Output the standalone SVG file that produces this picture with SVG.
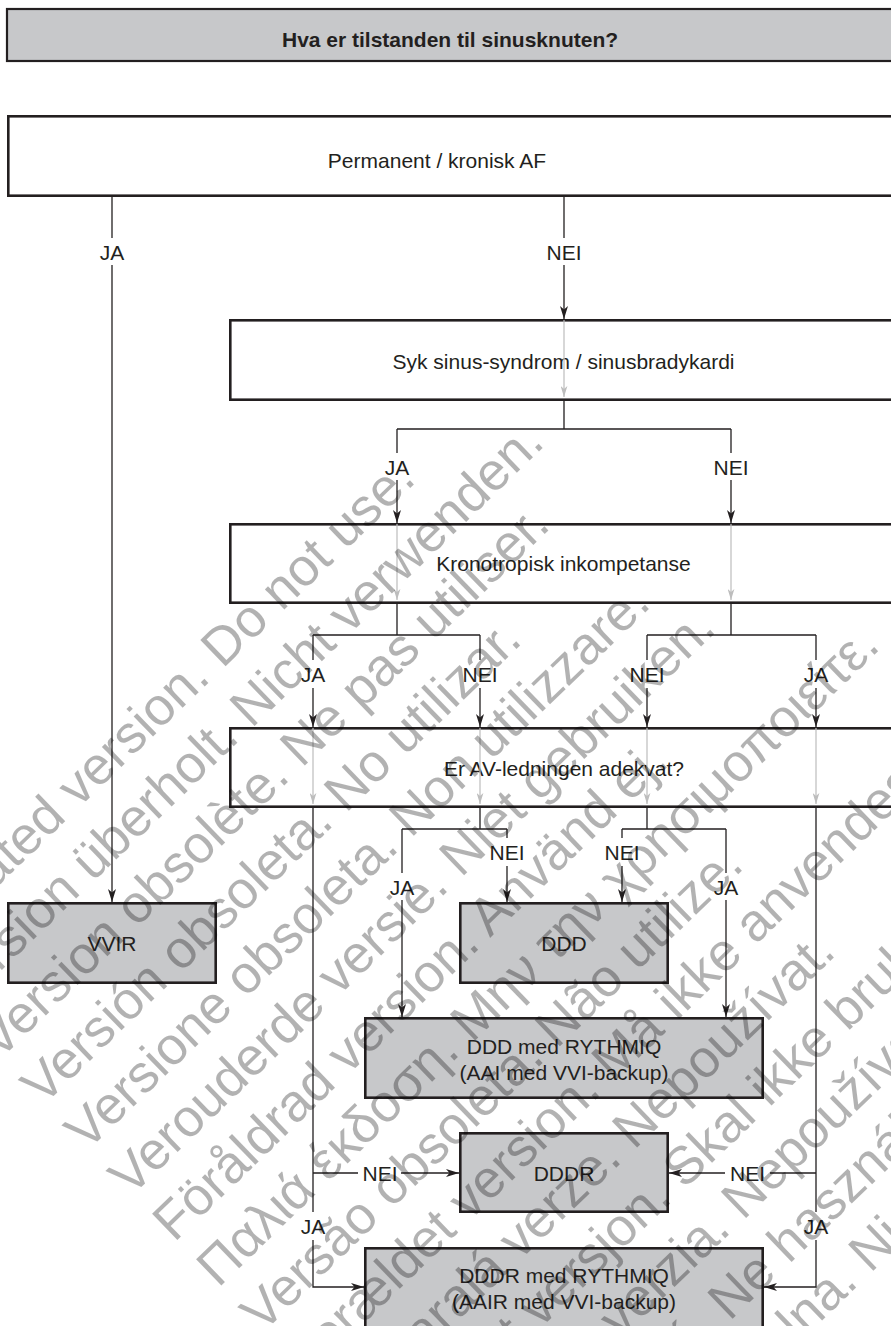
<svg xmlns="http://www.w3.org/2000/svg" width="891" height="1326" viewBox="0 0 891 1326">
<defs>
<style>
.box{fill:#ffffff;stroke:#231f20;stroke-width:2.6}
.gbox{fill:#c7c8ca;stroke:#231f20;stroke-width:2.6}
.t{font-family:"Liberation Sans",Arial,Helvetica,sans-serif;font-size:21px;fill:#231f20;text-anchor:middle}
.tb{font-weight:bold}
.c{stroke:#231f20;stroke-width:1.3;fill:none}
.a{marker-end:url(#ah)}
.g{stroke:#bdbdbd;stroke-width:1.2;fill:none;marker-end:url(#gh)}
.wm{font-family:"Liberation Sans",Arial,sans-serif;font-size:53px;fill:#000000;fill-opacity:0.3}
</style>
<marker id="ah" viewBox="0 0 13 8" refX="13" refY="4" markerWidth="13" markerHeight="8" markerUnits="userSpaceOnUse" orient="auto"><path d="M0,0 L13,4 L0,8 L3.5,4 Z" fill="#231f20"/></marker>
<marker id="gh" viewBox="0 0 13 8" refX="13" refY="4" markerWidth="11" markerHeight="7" markerUnits="userSpaceOnUse" orient="auto"><path d="M0,0 L13,4 L0,8 L3.5,4 Z" fill="#bdbdbd"/></marker>
</defs>
<rect x="0" y="0" width="891" height="1326" fill="#ffffff"/>

<g id="n-title"><rect x="7" y="9" width="900" height="52" fill="#c7c8ca" stroke="#231f20" stroke-width="2.2"/><text class="t tb" x="450" y="46.5">Hva er tilstanden til sinusknuten?</text></g>
<g id="n-af"><rect class="box" x="8.3" y="116.3" width="900" height="79.4"/><text class="t" x="437" y="168">Permanent / kronisk AF</text></g>
<g id="n-sss"><rect class="box" x="230.3" y="320.3" width="700" height="79.4"/><text class="t" x="563.5" y="368.5">Syk sinus-syndrom / sinusbradykardi</text></g>
<g id="n-kron"><rect class="box" x="230.3" y="524.3" width="700" height="78.4"/><text class="t" x="563.5" y="570.5">Kronotropisk inkompetanse</text></g>
<g id="n-av"><rect class="box" x="230.3" y="728.3" width="700" height="78.4"/><text class="t" x="564" y="775.5">Er AV-ledningen adekvat?</text></g>
<g id="n-vvir"><rect class="gbox" x="8.3" y="903.3" width="207.4" height="79.4"/><text class="t" x="112" y="950.5">VVIR</text></g>
<g id="n-ddd"><rect class="gbox" x="460.3" y="903.3" width="207.4" height="79.4"/><text class="t" x="564" y="950.5">DDD</text></g>
<g id="n-dddr-rq"><rect class="gbox" x="365.3" y="1018.3" width="397.4" height="79.4"/><text class="t" x="564" y="1053.5">DDD med RYTHMIQ</text><text class="t" x="564" y="1079.5">(AAI med VVI-backup)</text></g>
<g id="n-dddr"><rect class="gbox" x="460.3" y="1133.3" width="207.4" height="78.4"/><text class="t" x="564" y="1180.5">DDDR</text></g>
<g id="n-dddrr"><rect class="gbox" x="365.3" y="1248.3" width="397.4" height="100"/><text class="t" x="564" y="1283">DDDR med RYTHMIQ</text><text class="t" x="564" y="1309">(AAIR med VVI-backup)</text></g>

<g id="connectors">
<path class="g" d="M564,320 V397"/>
<path class="g" d="M397,524 V600"/>
<path class="g" d="M731,524 V600"/>
<path class="g" d="M313,728 V804"/>
<path class="g" d="M480,728 V804"/>
<path class="g" d="M647,728 V804"/>
<path class="g" d="M816,728 V804"/>

<path class="c" d="M112,197 V238"/>
<path class="c a" d="M112,265 V902"/>
<path class="c" d="M564,197 V238"/>
<path class="c a" d="M564,265 V319"/>
<path class="c" d="M564,401 V429 M397,429 H731 M397,429 V453 M731,429 V453"/>
<path class="c a" d="M397,480 V523"/>
<path class="c a" d="M731,480 V523"/>
<path class="c" d="M397,604 V635 M313,635 H480 M731,604 V635 M647,635 H816 M313,635 V660 M480,635 V660 M647,635 V660 M816,635 V660"/>
<path class="c a" d="M313,688 V727"/>
<path class="c a" d="M480,688 V727"/>
<path class="c a" d="M647,688 V727"/>
<path class="c a" d="M816,688 V727"/>
<path class="c" d="M480,808 V829 M402,829 H507 M647,808 V829 M622,829 H726 M507,829 V838 M622,829 V838 M402,829 V873 M726,829 V873"/>
<path class="c a" d="M507,866 V902"/>
<path class="c a" d="M622,866 V902"/>
<path class="c a" d="M402,900 V1017"/>
<path class="c a" d="M726,900 V1017"/>
<path class="c" d="M313,808 V1212 M313,1173 H358 M816,808 V1212 M816,1173 H770"/>
<path class="c a" d="M401,1173 H459"/>
<path class="c a" d="M725,1173 H669"/>
<path class="c a" d="M313,1240 V1287 H364"/>
<path class="c a" d="M816,1240 V1287 H764"/>
<text class="t" x="112" y="259.5">JA</text>
<text class="t" x="564" y="259.5">NEI</text>
<text class="t" x="397" y="474.5">JA</text>
<text class="t" x="731" y="474.5">NEI</text>
<text class="t" x="313" y="681.5">JA</text>
<text class="t" x="480" y="681.5">NEI</text>
<text class="t" x="647" y="681.5">NEI</text>
<text class="t" x="816" y="681.5">JA</text>
<text class="t" x="507" y="859.5">NEI</text>
<text class="t" x="622" y="859.5">NEI</text>
<text class="t" x="402" y="894.5">JA</text>
<text class="t" x="726" y="894.5">JA</text>
<text class="t" x="380" y="1180.5">NEI</text>
<text class="t" x="747.5" y="1180.5">NEI</text>
<text class="t" x="313" y="1233.5">JA</text>
<text class="t" x="816" y="1233.5">JA</text>
</g>

<g id="watermark" class="wm" transform="rotate(-44)">
<text x="-738" y="636">Outdated version. Do not use.</text>
<text x="-738" y="699.2">Version überholt. Nicht verwenden.</text>
<text x="-738" y="762.4">Version obsolète. Ne pas utiliser.</text>
<text x="-738" y="825.6">Versión obsoleta. No utilizar.</text>
<text x="-738" y="888.8">Versione obsoleta. Non utilizzare.</text>
<text x="-738" y="952">Verouderde versie. Niet gebruiken.</text>
<text x="-738" y="1015.2">Föråldrad version. Använd ej.</text>
<text x="-738" y="1078.4">Παλιά έκδοση. Μην την χρησιμοποιείτε.</text>
<text x="-738" y="1141.6">Versão obsoleta. Não utilize.</text>
<text x="-738" y="1204.8">Forældet version. Må ikke anvendes.</text>
<text x="-738" y="1268">Zastaralá verze. Nepoužívat.</text>
<text x="-738" y="1331.2">Utdatert versjon. Skal ikke brukes.</text>
<text x="-738" y="1394.4">Zastaraná verzia. Nepoužívať.</text>
<text x="-738" y="1457.6">Elavult verzió. Ne használja!</text>
<text x="-738" y="1520.8">Wersja nieaktualna. Nie używać.</text>
</g>
</svg>
